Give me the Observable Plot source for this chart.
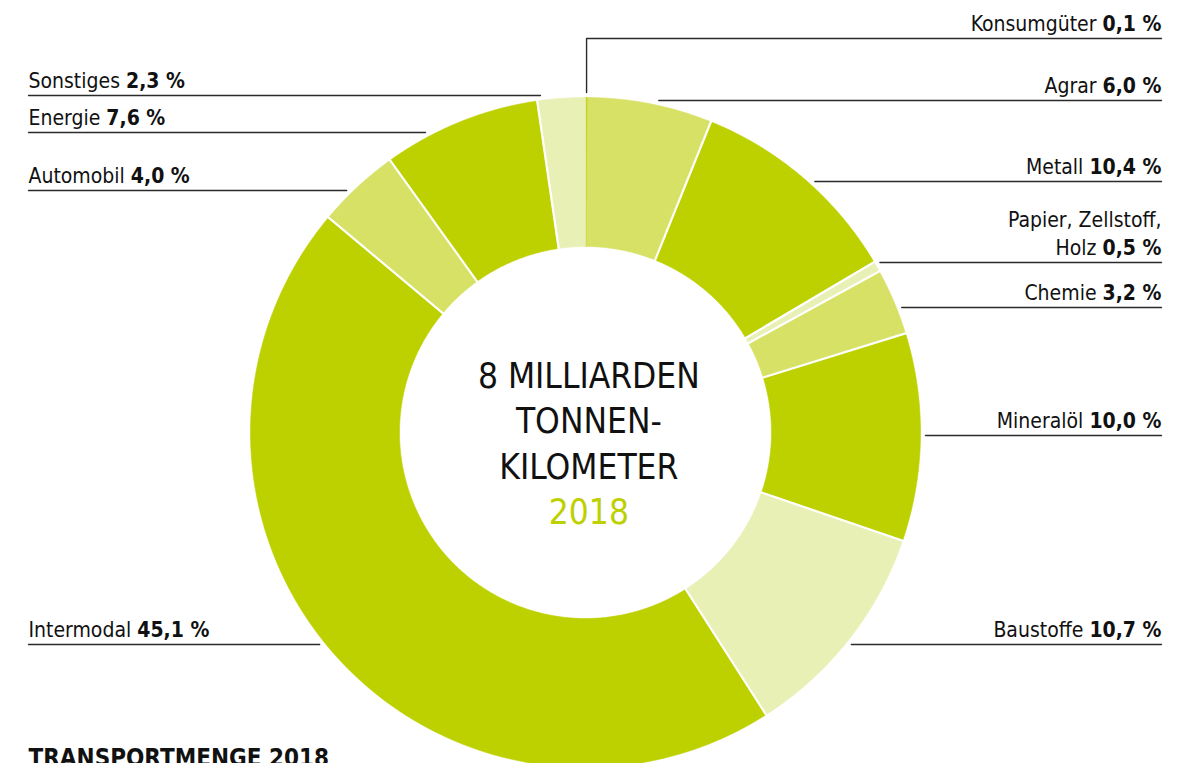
<!DOCTYPE html>
<html>
<head>
<meta charset="utf-8">
<script src="https://cdn.jsdelivr.net/npm/d3@7"></script>
<script src="https://cdn.jsdelivr.net/npm/@observablehq/plot@0.6"></script>
<style>
  html, body { margin: 0; padding: 0; background: #fff; overflow: hidden; }
  svg { display: block; }
</style>
</head>
<body>
<div id="chart"></div>
<script>
// ---- data ----
const categories = ["Konsumgüter", "Agrar", "Metall", "Papier, Zellstoff,\nHolz", "Chemie", "Mineralöl", "Baustoffe", "Intermodal", "Automobil", "Energie", "Sonstiges"];
const shares = [0.1, 6.0, 10.4, 0.5, 3.2, 10.0, 10.7, 45.1, 4.0, 7.6, 2.3];
const shades = ["dark", "medium", "dark", "light", "medium", "dark", "light", "dark", "medium", "dark", "light"];
const labelSides = ["right", "right", "right", "right", "right", "right", "right", "left", "left", "left", "left"];
const centerLines = ["8 MILLIARDEN", "TONNEN-", "KILOMETER"];
const centerYear = "2018";
const titleText = "TRANSPORTMENGE 2018";

// ---- layout (pixels) ----
const W = 1193, H = 763;
const CX = 585, CY = 432, R = 335, R_IN = 186;
const labelLineY = [38, 100, 181, 262, 307, 435, 644, 644, 190, 132, 95];
const LEFT_X = 28, RIGHT_X = 1161, GAP = 5;
const FONT = '"Liberation Sans Narrow", "DejaVu Sans Condensed", "Roboto Condensed", Roboto, sans-serif';

const ux = px => (px - CX) / R;
const uy = py => (CY - py) / R;
const inner = R_IN / R;

const fmt = v => d3.format(".1f")(v).replace(".", ",") + " %";

// pie angles (clockwise from top)
const arcs = d3.pie().sort(null).value(d => d)(shares);

// slice polygons
const slicePts = [];
arcs.forEach((a, i) => {
  const n = Math.max(2, Math.ceil((a.endAngle - a.startAngle) / (Math.PI / 360)));
  const outer = [], inn = [];
  for (let k = 0; k <= n; k++) {
    const t = a.startAngle + (a.endAngle - a.startAngle) * k / n;
    outer.push({t, r: 1});
    inn.push({t, r: inner});
  }
  [...outer, ...inn.reverse()].forEach(p => slicePts.push({
    name: categories[i], shade: shades[i],
    x: p.r * Math.sin(p.t), y: p.r * Math.cos(p.t)
  }));
});

// separators (skip boundaries that touch a hairline slice)
const seps = [];
arcs.forEach((a, i) => {
  const prev = shares[(i - 1 + shares.length) % shares.length];
  if (shares[i] < 0.3 || prev < 0.3) return;
  const t = a.startAngle;
  seps.push({x1: (inner - 0.01) * Math.sin(t), y1: (inner - 0.01) * Math.cos(t),
             x2: 1.01 * Math.sin(t), y2: 1.01 * Math.cos(t)});
});

// leader lines
const leaders = [];
categories.forEach((c, i) => {
  const ly = labelLineY[i];
  const dy = ly - CY;
  const side = labelSides[i];
  if (ly < CY - R && side === "right") {
    // elbow from slice top
    const mid = (arcs[i].startAngle + arcs[i].endAngle) / 2;
    const sx = CX + (R + GAP) * Math.sin(mid);
    leaders.push({name: c, x: ux(sx), y: uy(CY - (R + GAP) * Math.cos(mid))});
    leaders.push({name: c, x: ux(sx), y: uy(ly)});
    leaders.push({name: c, x: ux(RIGHT_X), y: uy(ly)});
    return;
  }
  const half = Math.sqrt(Math.max(0, (R + GAP) ** 2 - dy * dy)) || 33;
  if (side === "right") {
    leaders.push({name: c, x: ux(CX + half), y: uy(ly)});
    leaders.push({name: c, x: ux(RIGHT_X), y: uy(ly)});
  } else {
    leaders.push({name: c, x: ux(LEFT_X), y: uy(ly)});
    leaders.push({name: c, x: ux(CX - half), y: uy(ly)});
  }
});

const labels = categories.map((c, i) => ({
  text: c + "|" + fmt(shares[i]),
  side: labelSides[i],
  x: ux(labelSides[i] === "right" ? RIGHT_X : LEFT_X),
  y: uy(labelLineY[i] - 8)
}));

const chart = Plot.plot({
  width: W, height: H,
  margin: 0,
  x: {domain: [ux(0), ux(W)], axis: null},
  y: {domain: [uy(H), uy(0)], axis: null},
  color: {domain: ["dark", "medium", "light"], range: ["#bdd000", "#d6e166", "#e9f0b5"]},
  style: {fontFamily: FONT, background: "#fff", color: "#111", overflow: "hidden"},
  marks: [
    Plot.line(slicePts, {x: "x", y: "y", z: "name", fill: "shade", stroke: "shade", strokeWidth: 0.6, curve: "linear-closed"}),
    Plot.link(seps, {x1: "x1", y1: "y1", x2: "x2", y2: "y2", stroke: "#fff", strokeWidth: 2.2}),
    Plot.line(leaders, {x: "x", y: "y", z: "name", stroke: "#2b2b2b", strokeWidth: 1.4, curve: "linear"}),
    Plot.text(labels.filter(d => d.side === "right"), {x: "x", y: "y", text: "text", textAnchor: "end", lineAnchor: "bottom", fontSize: 21, lineHeight: 1.32, fill: "#111"}),
    Plot.text(labels.filter(d => d.side === "left"), {x: "x", y: "y", text: "text", textAnchor: "start", lineAnchor: "bottom", fontSize: 21, lineHeight: 1.32, fill: "#111"}),
    Plot.text([centerLines.join("\n")], {x: 0.01, y: uy(478), text: d => d, textAnchor: "middle", lineAnchor: "bottom", fontSize: 35, lineHeight: 1.3, fill: "#111"}),
    Plot.text([centerYear], {x: 0.01, y: uy(523), text: d => d, textAnchor: "middle", lineAnchor: "bottom", fontSize: 35, fill: "#bdd000"}),
    Plot.text([titleText], {x: ux(LEFT_X), y: uy(765), text: d => d, textAnchor: "start", lineAnchor: "bottom", fontSize: 24, fontWeight: "bold", fill: "#111"})
  ]
});

// bold value part of each label
function boldify(el) {
  const tspans = Array.from(el.children).filter(n => n.tagName.toLowerCase() === "tspan");
  if (tspans.length) { tspans.forEach(boldify); return; }
  const s = el.textContent;
  if (!s.includes("|")) return;
  const [name, val] = s.split("|");
  el.textContent = name + " ";
  const b = document.createElementNS("http://www.w3.org/2000/svg", "tspan");
  b.setAttribute("font-weight", "bold");
  b.textContent = val;
  el.appendChild(b);
}
chart.querySelectorAll("text").forEach(boldify);

document.getElementById("chart").appendChild(chart);
</script>
</body>
</html>
